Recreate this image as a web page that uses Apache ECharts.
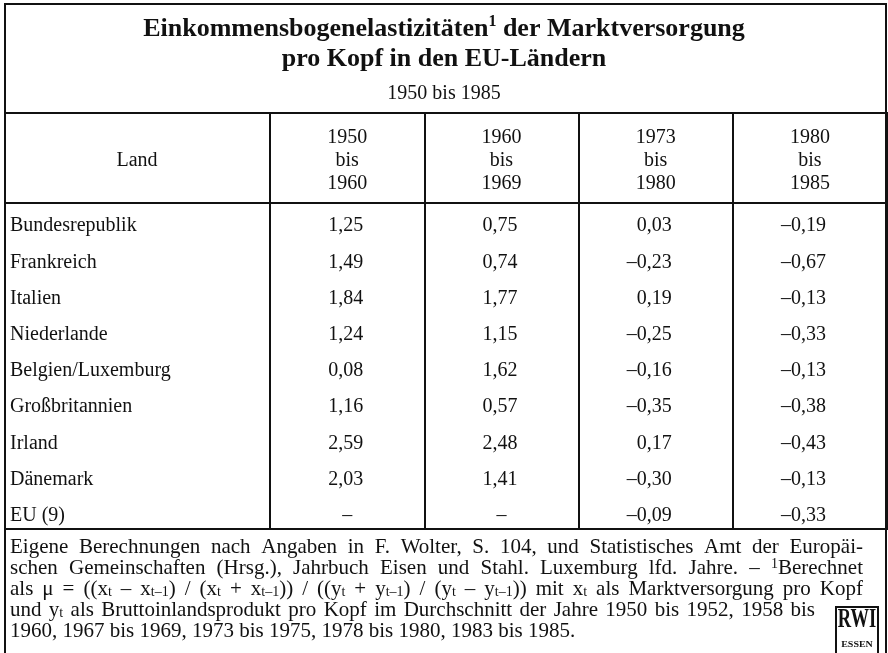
<!DOCTYPE html>
<html>
<head>
<meta charset="utf-8">
<style>
html, body { margin: 0; padding: 0; background: #fff; }
#chart { width: 888px; height: 653px; }
</style>
<script src="https://cdn.jsdelivr.net/npm/echarts/dist/echarts.min.js"></script>
</head>
<body>
<div id="chart"></div>
<script>
// Einkommensbogenelastizitäten der Marktversorgung pro Kopf
var countries = ['Bundesrepublik', 'Frankreich', 'Italien', 'Niederlande', 'Belgien/Luxemburg',
                 'Großbritannien', 'Irland', 'Dänemark', 'EU (9)'];
var periods = ['1950 bis 1960', '1960 bis 1969', '1973 bis 1980', '1980 bis 1985'];
var p1950 = [1.25, 1.49, 1.84, 1.24, 0.08, 1.16, 2.59, 2.03, null];
var p1960 = [0.75, 0.74, 1.77, 1.15, 1.62, 0.57, 2.48, 1.41, null];
var p1973 = [0.03, -0.23, 0.19, -0.25, -0.16, -0.35, 0.17, -0.30, -0.09];
var p1980 = [-0.19, -0.67, -0.13, -0.33, -0.13, -0.38, -0.43, -0.13, -0.33];
var columns = [p1950, p1960, p1973, p1980];

var FONT = '"Liberation Serif", "Times New Roman", serif';
var INK = '#111';

// footnote, split in the printed lines
var noteLines = [
    [['n', 'Eigene Berechnungen nach Angaben in F. Wolter, S. 104, und Statistisches Amt der Europäi-']],
    [['n', 'schen Gemeinschaften (Hrsg.), Jahrbuch Eisen und Stahl. Luxemburg lfd. Jahre. – '], ['sup', '1'], ['n', 'Berechnet']],
    [['n', 'als μ = ((x'], ['sub', 't'], ['n', ' – x'], ['sub', 't–1'], ['n', ') / (x'], ['sub', 't'], ['n', ' + x'], ['sub', 't–1'],
     ['n', ')) / ((y'], ['sub', 't'], ['n', ' + y'], ['sub', 't–1'], ['n', ') / (y'], ['sub', 't'], ['n', ' – y'], ['sub', 't–1'],
     ['n', ')) mit x'], ['sub', 't'], ['n', ' als Marktversorgung pro Kopf']],
    [['n', 'und y'], ['sub', 't'], ['n', ' als Bruttoinlandsprodukt pro Kopf im Durchschnitt der Jahre 1950 bis 1952, 1958 bis']],
    [['n', '1960, 1967 bis 1969, 1973 bis 1975, 1978 bis 1980, 1983 bis 1985.']]
];
var noteRight = [863, 863, 863, 815, null];   // null: last line, not justified

function fmt(v) {
    if (v == null) return '–';
    return (v < 0 ? '–' : '') + Math.abs(v).toFixed(2).replace('.', ',');
}

var noteRich = {
    n: { fontFamily: FONT, fontSize: 21, lineHeight: 21, color: INK },
    sub: { fontFamily: FONT, fontSize: 14, lineHeight: 6, verticalAlign: 'bottom', color: INK },
    sup: { fontFamily: FONT, fontSize: 14, lineHeight: 10, verticalAlign: 'top', color: INK }
};

var ctx = document.createElement('canvas').getContext('2d');
function textW(style, s) {
    ctx.font = noteRich[style].fontSize + 'px ' + FONT;
    return ctx.measureText(s).width;
}

var graphics = [
    { type: 'rect', shape: { x: 5, y: 4, width: 881, height: 700 },
      style: { fill: 'none', stroke: INK, lineWidth: 2 } },
    { type: 'line', shape: { x1: 5, y1: 113, x2: 270, y2: 113 }, style: { stroke: INK, lineWidth: 2 } },
    { type: 'line', shape: { x1: 5, y1: 203, x2: 270, y2: 203 }, style: { stroke: INK, lineWidth: 2 } },
    { type: 'line', shape: { x1: 5, y1: 529, x2: 270, y2: 529 }, style: { stroke: INK, lineWidth: 2 } },
    { type: 'text', x: 137, y: 161,
      style: { text: 'Land', fontFamily: FONT, fontSize: 20, fill: INK, align: 'center', verticalAlign: 'middle' } },
    // RWI mark
    { type: 'rect', shape: { x: 836, y: 607, width: 42, height: 60 },
      style: { fill: 'none', stroke: INK, lineWidth: 2 } },
    { type: 'text', x: 857, y: 620, scaleX: 0.66,
      style: { text: 'RWI', fontFamily: FONT, fontWeight: 'bold', fontSize: 28, fill: INK, align: 'center', verticalAlign: 'middle' } },
    { type: 'text', x: 857, y: 645, scaleX: 1.25,
      style: { text: 'ESSEN', fontFamily: FONT, fontWeight: 'bold', fontSize: 8, fill: INK, align: 'center', verticalAlign: 'middle' } }
];

// justified footnote: word gaps get a rich token of computed width
noteLines.forEach(function (segs, i) {
    var natural = 0, gaps = 0;
    segs.forEach(function (s) {
        natural += textW(s[0], s[1]);
        if (s[0] === 'n') gaps += s[1].split(' ').length - 1;
    });
    var spW = textW('n', ' ');
    if (noteRight[i] != null && gaps > 0) spW += (noteRight[i] - 10 - natural) / gaps;
    var rich = Object.assign({}, noteRich);
    rich.sp = { fontFamily: FONT, fontSize: 21, lineHeight: 21, width: spW };
    var str = '';
    segs.forEach(function (s) {
        if (s[0] !== 'n') { str += '{' + s[0] + '|' + s[1] + '}'; return; }
        s[1].split(' ').forEach(function (word, k) {
            if (k > 0) str += '{sp| }';
            if (word) str += '{n|' + word + '}';
        });
    });
    graphics.push({
        type: 'text', x: 10, y: 547 + i * 21,
        style: { text: str, rich: rich, align: 'left', verticalAlign: 'middle', fill: INK }
    });
});

var cells = [];
columns.forEach(function (col, pi) {
    col.forEach(function (v, ci) {
        cells.push([pi, ci, v]);
    });
});

function renderCell(params, api) {
    var v = cells[params.dataIndex][2];
    var pt = api.coord([api.value(0), api.value(1)]);
    return {
        type: 'text',
        x: pt[0] + (v == null ? 0 : 16),
        y: pt[1] + 5,
        style: {
            text: fmt(v),
            fill: INK,
            fontFamily: FONT,
            fontSize: 20,
            align: v == null ? 'center' : 'right',
            verticalAlign: 'middle'
        }
    };
}

var myChart = echarts.init(document.getElementById('chart'));
var option = {
    backgroundColor: '#fff',
    animation: false,
    title: {
        left: 'center',
        top: 14,
        padding: 0,
        itemGap: 11,
        text: '{b|Einkommensbogenelastizitäten}{sup|1}{b| der Marktversorgung}\n{b|pro Kopf in den EU-Ländern}',
        textStyle: {
            rich: {
                b: { fontFamily: FONT, fontWeight: 'bold', fontSize: 26, lineHeight: 30, color: INK },
                sup: { fontFamily: FONT, fontSize: 16, lineHeight: 18, verticalAlign: 'top', color: INK }
            }
        },
        subtext: '1950 bis 1985',
        subtextStyle: { fontFamily: FONT, fontSize: 20, lineHeight: 22, color: INK }
    },
    grid: [
        { left: 270, right: 1, top: 203, bottom: 124, show: true, borderColor: INK, borderWidth: 2 },
        { left: 270, right: 1, top: 113, height: 90, show: true, borderColor: INK, borderWidth: 2 }
    ],
    xAxis: [
        {
            gridIndex: 0, type: 'category', data: periods, position: 'top',
            axisLine: { show: false }, axisTick: { show: false },
            axisLabel: {
                interval: 0, margin: 8, color: INK, fontFamily: FONT, fontSize: 20, lineHeight: 23,
                formatter: function (s) { return s.split(' ').join('\n'); }
            },
            splitLine: { show: true, lineStyle: { color: INK, width: 2 } }
        },
        {
            gridIndex: 1, type: 'category', data: periods,
            axisLine: { show: false }, axisTick: { show: false }, axisLabel: { show: false },
            splitLine: { show: true, lineStyle: { color: INK, width: 2 } }
        }
    ],
    yAxis: [
        {
            gridIndex: 0, type: 'category', data: countries, inverse: true,
            axisLine: { show: false }, axisTick: { show: false }, splitLine: { show: false },
            axisLabel: {
                interval: 0, align: 'left', verticalAlign: 'top', lineHeight: 10, margin: 260,
                color: INK, fontFamily: FONT, fontSize: 20
            }
        },
        { gridIndex: 1, type: 'value', show: false }
    ],
    graphic: graphics,
    series: [
        {
            name: 'Elastizität',
            type: 'custom',
            xAxisIndex: 0,
            yAxisIndex: 0,
            renderItem: renderCell,
            data: cells
        }
    ]
};

myChart.setOption(option);
</script>
</body>
</html>
